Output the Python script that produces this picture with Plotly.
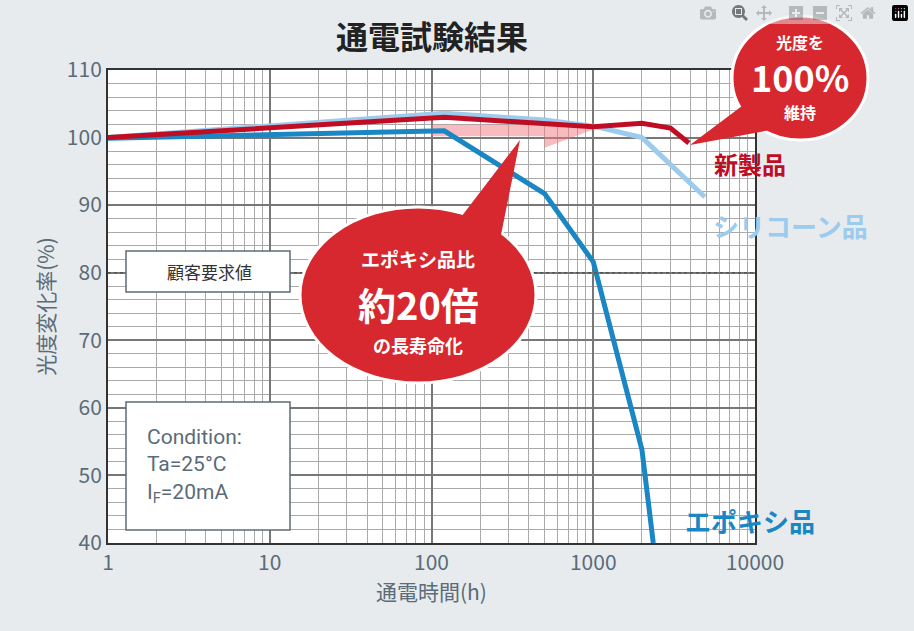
import plotly.graph_objects as go

# data
new_h = [1, 120, 1000, 2000, 3000, 3900]
new_v = [100.0, 103.0, 101.6, 102.1, 101.4, 99.2]
sil_h = [1, 120, 500, 1050, 2000, 4900]
sil_v = [100.0, 103.6, 102.6, 101.6, 100.0, 91.2]
epo_h = [1, 120, 500, 1000, 2000, 2350]
epo_v = [99.9, 101.0, 91.7, 81.6, 53.8, 40.0]
x_ticks = [1, 10, 100, 1000, 10000]
y_ticks = [40, 50, 60, 70, 80, 90, 100, 110]

W, H = 914, 631
L, R, T, B = 108, 755, 70, 543


def px(X, Y):
    return (X - L) / (R - L), (B - Y) / (B - T)


RED = "#d7282f"
DARK = "#c00d23"
BLUE = "#1a86c4"
LBLUE = "#9ccbee"
GRAY = "#5b6b78"

fig = go.Figure()

# pink arrow band
fig.add_trace(go.Scatter(x=[100, 500, 500, 1000, 500, 500, 100, 100], y=[100.2, 100.2, 98.5, 101.2, 103.0, 101.9, 101.9, 100.2],
                         fill="toself", fillcolor="rgba(240,120,130,0.5)", line=dict(width=0), mode="lines", hoverinfo="skip"))
fig.add_trace(go.Scatter(x=sil_h, y=sil_v, mode="lines", line=dict(color=LBLUE, width=5)))
fig.add_trace(go.Scatter(x=epo_h, y=epo_v, mode="lines", line=dict(color=BLUE, width=5)))
fig.add_trace(go.Scatter(x=new_h, y=new_v, mode="lines", line=dict(color=DARK, width=5)))

shapes = []
# customer requirement line
shapes.append(dict(type="line", xref="paper", yref="y", x0=0, x1=1, y0=80, y1=80,
                   line=dict(color="#555", width=1.5, dash="dot")))
# boxes
for (x0, y0, x1, y1) in [(126, 251, 290, 292), (126, 402, 290, 530)]:
    a, b = px(x0, y1)
    c, d = px(x1, y0)
    shapes.append(dict(type="rect", xref="paper", yref="paper", x0=a, y0=b, x1=c, y1=d,
                       fillcolor="white", line=dict(color=GRAY, width=1.5)))


def bubble(cx, cy, rx, ry, pts):
    a, b = px(cx - rx, cy + ry)
    c, d = px(cx + rx, cy - ry)
    shapes.append(dict(type="circle", xref="paper", yref="paper", x0=a, y0=b, x1=c, y1=d,
                       fillcolor=RED, line=dict(color="white", width=3)))
    path = "M " + " L ".join("%f,%f" % px(X, Y) for X, Y in pts) + " Z"
    shapes.append(dict(type="path", xref="paper", yref="paper", path=path,
                       fillcolor=RED, line=dict(color=RED, width=0)))


bubble(418, 295, 118, 88, [(455, 225), (520, 140), (500, 240)])
bubble(800, 78, 68, 62, [(750, 100), (690, 145), (770, 130)])

ann = []


def text(X, Y, s, size, color, bold=True):
    x, y = px(X, Y)
    ann.append(dict(xref="paper", yref="paper", x=x, y=y, xanchor="center", yanchor="middle",
                    text=("<b>%s</b>" % s) if bold else s,
                    showarrow=False, font=dict(size=size, color=color)))


text(432, 35, "通電試験結果", 32, "#222")
text(209, 271, "顧客要求値", 17, "#333", False)
ann.append(dict(xref="paper", yref="paper", x=px(145, 0)[0], y=px(0, 466)[1], xanchor="left", yanchor="middle",
                text="Condition:<br>Ta=25°C<br>I<sub>F</sub>=20mA", align="left", showarrow=False,
                font=dict(size=21, color=GRAY, family="Roboto")))
text(418, 258, "エポキシ品比", 19, "white")
text(418, 303, "約20倍", 38, "white")
text(418, 345, "の長寿命化", 18, "white")
text(800, 42, "光度を", 16, "white")
text(800, 76, "100%", 36, "white")
text(800, 112, "維持", 16, "white")
text(750, 163, "新製品", 24, DARK)
text(790, 225, "シリコーン品", 26, LBLUE)
text(750, 520, "エポキシ品", 26, BLUE)

fig.update_layout(
    width=W, height=H, margin=dict(l=L, r=W - R, t=T, b=H - B),
    paper_bgcolor="#e7ebee", plot_bgcolor="white", showlegend=False,
    font=dict(family="Noto Sans CJK JP", color=GRAY),
    shapes=shapes, annotations=ann,
)
fig.update_xaxes(type="log", range=[0, 4], tickvals=x_ticks, ticktext=[str(v) for v in x_ticks],
                 tickfont=dict(size=21, color=GRAY), showgrid=True, gridcolor="#777", gridwidth=1.5,
                 minor=dict(showgrid=True, gridcolor="#aaa", gridwidth=1, dtick="D1"),
                 showline=True, linecolor="#333", linewidth=2, mirror=True,
                 title=dict(text="通電時間(h)", font=dict(size=21, color=GRAY), standoff=4))
fig.update_yaxes(range=[40, 110], tickvals=y_ticks, tickfont=dict(size=21, color=GRAY),
                 showgrid=True, gridcolor="#777", gridwidth=1.5,
                 minor=dict(showgrid=True, gridcolor="#aaa", gridwidth=1, dtick=2),
                 showline=True, linecolor="#333", linewidth=2, mirror=True, zeroline=False,
                 title=dict(text="光度変化率(%)", font=dict(size=21, color=GRAY), standoff=6))

fig.write_html("out.html", post_script="document.body.style.margin='0';document.documentElement.style.overflow='hidden';")
